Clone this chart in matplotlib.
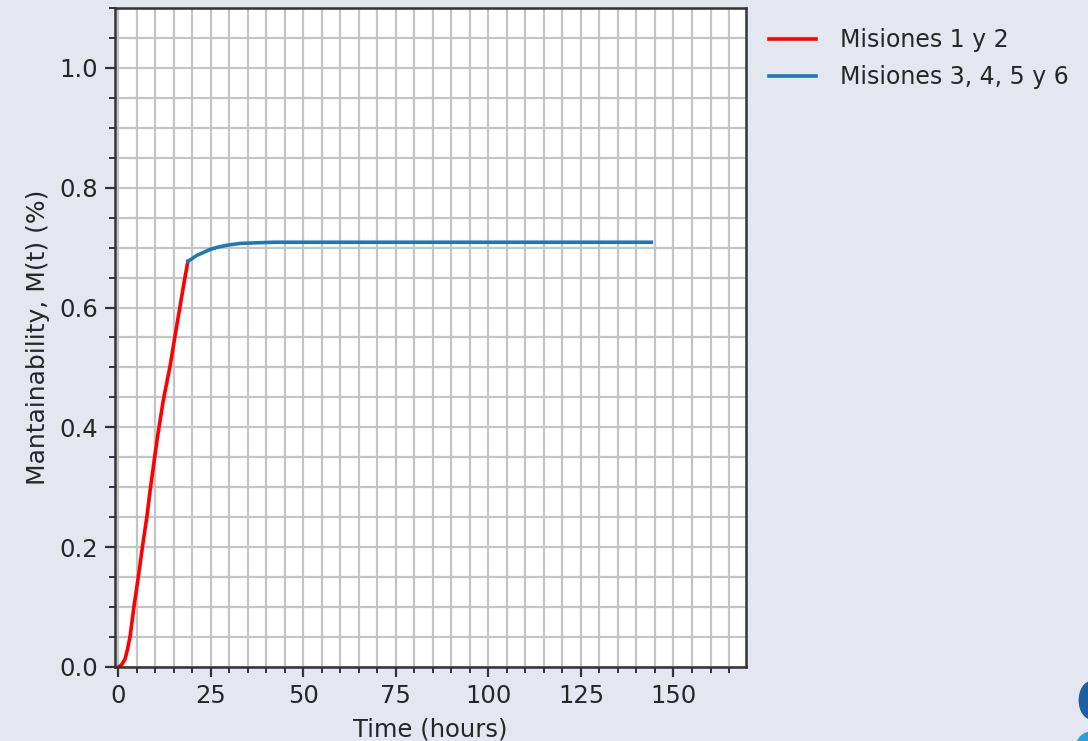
import matplotlib.pyplot as plt
from matplotlib.patches import Ellipse
from matplotlib.ticker import MultipleLocator

# Misiones 1 y 2
t_red = [0, 0.8, 1.8, 2.5, 3.2, 4.2, 5.4, 6.5, 7.7, 8.6, 9.7, 10.6, 12.2, 14.0, 15.3, 16.7, 17.8, 18.8]
m_red = [0, 0.003, 0.013, 0.03, 0.052, 0.1, 0.15, 0.2, 0.25, 0.295, 0.345, 0.385, 0.447, 0.503, 0.552, 0.603, 0.643, 0.677]

# Misiones 3, 4, 5 y 6
t_blue = [18.8, 20.0, 21.2, 23.0, 24.8, 27.0, 29.3, 32.9, 37, 42, 50, 75, 100, 125, 144]
m_blue = [0.677, 0.682, 0.687, 0.692, 0.697, 0.701, 0.704, 0.707, 0.708, 0.709, 0.709, 0.709, 0.709, 0.709, 0.709]

labels = ['Misiones 1 y 2', 'Misiones 3, 4, 5 y 6']

bg = '#e4e7ef'
txt = '#262626'

fig = plt.figure(figsize=(10.88, 7.41), dpi=100, facecolor=bg)
ax = fig.add_axes([0.1057, 0.0999, 0.58, 0.8893])
ax.set_facecolor('white')

ax.plot(t_red, m_red, color='red', lw=2.6, label=labels[0])
ax.plot(t_blue, m_blue, color='#1f77b4', lw=2.6, label=labels[1])

ax.set_xlim(-0.9, 169.6)
ax.set_ylim(0, 1.1)
ax.xaxis.set_major_locator(MultipleLocator(25))
ax.xaxis.set_minor_locator(MultipleLocator(5))
ax.yaxis.set_major_locator(MultipleLocator(0.2))
ax.yaxis.set_minor_locator(MultipleLocator(0.05))
ax.grid(True, which='both', color='#c4c4c4', lw=1.6)
ax.set_axisbelow(True)

ax.tick_params(which='major', length=7, width=1.6, labelsize=17.5, colors='#333333',
               labelcolor=txt, pad=5)
ax.tick_params(which='minor', length=4, width=1.4, colors='#333333')
for s in ax.spines.values():
    s.set_color('#333333')
    s.set_linewidth(1.8)

ax.set_xlabel('Time (hours)', fontsize=17.5, color=txt, labelpad=7)
ax.set_ylabel('Mantainability, M(t) (%)', fontsize=18, color=txt, labelpad=7)

ax.legend(loc='upper left', bbox_to_anchor=(1.01, 0.995), frameon=False, fontsize=17,
          handlelength=2.0, handletextpad=1.0, labelspacing=0.55, borderaxespad=0.3,
          labelcolor=txt)
for h in ax.get_legend().get_lines():
    h.set_linewidth(2.6)

# logo fragments in the slide corner
fig.patches.append(Ellipse((1.003, 0.055), 0.022, 0.05, transform=fig.transFigure,
                           color='#1d5fa0', zorder=-1))
fig.patches.append(Ellipse((1.005, -0.005), 0.03, 0.035, transform=fig.transFigure,
                           color='#2a9fd8', zorder=-1))

fig.savefig('out.png', dpi=100, facecolor=bg)
